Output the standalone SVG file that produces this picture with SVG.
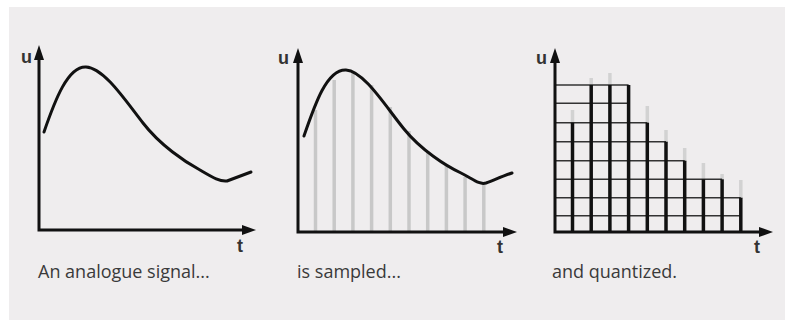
<svg xmlns="http://www.w3.org/2000/svg" width="785" height="320" viewBox="0 0 785 320">
<defs>
<style>
.axis{stroke:#111;stroke-width:3;fill:none}
.head{fill:#111}
.curve{stroke:#111;stroke-width:3;fill:none;stroke-linecap:round;stroke-linejoin:round}
.sample{stroke:#c8c8c8;stroke-width:3.5}
.ghost{stroke:#d2d2d2;stroke-width:3.5}
.grid{stroke:#333;stroke-width:1.6}
.bar{stroke:#111;stroke-width:3.5}
.lbl{font-family:"Liberation Sans",Arial,sans-serif;font-size:18px;font-weight:bold;fill:#333}
.cap{font-family:"Open Sans","Noto Sans",sans-serif;font-size:18px;fill:#3a3a3a}
</style>
</defs>
<rect x="9" y="7" width="776" height="313" fill="#efedee"/>

<g id="panel-analogue">
<path class="axis" d="M39,58 V230 H244"/>
<polygon class="head" points="39,45 34,60 44,60"/>
<polygon class="head" points="256,230 242,225 242,235"/>
<text class="lbl" x="21" y="63">u</text>
<text class="lbl" x="237" y="252">t</text>
<path class="curve" d="M44,132 C55,100 68,66 86,67 C104,68 125,100 143,123 C160,145 185,162 200,170 C212,177 220,182 227,181 C235,178 243,175 251,172"/>
</g>

<g id="panel-sampled">
<g id="samples">
<line class="sample" x1="315.5" y1="231" x2="315.5" y2="110"/>
<line class="sample" x1="334.2" y1="231" x2="334.2" y2="80"/>
<line class="sample" x1="352.9" y1="231" x2="352.9" y2="72"/>
<line class="sample" x1="371.6" y1="231" x2="371.6" y2="85"/>
<line class="sample" x1="390.3" y1="231" x2="390.3" y2="107"/>
<line class="sample" x1="409" y1="231" x2="409" y2="131"/>
<line class="sample" x1="427.7" y1="231" x2="427.7" y2="151"/>
<line class="sample" x1="446.4" y1="231" x2="446.4" y2="165"/>
<line class="sample" x1="465.1" y1="231" x2="465.1" y2="177"/>
<line class="sample" x1="483.8" y1="231" x2="483.8" y2="183"/>
</g>
<path class="axis" d="M298,61 V232 H505"/>
<polygon class="head" points="298,48 293,63 303,63"/>
<polygon class="head" points="517,232 503,227 503,237"/>
<text class="lbl" x="278" y="64">u</text>
<text class="lbl" x="497" y="253">t</text>
<path class="curve" d="M304,136 C315,104 327,69 346,70 C364,71 386,107 404,129 C421,150 446,166 461,173 C473,179 479,185 486,183 C494,180 503,176 512,173"/>
</g>

<g id="panel-quantized">
<g id="ghosts">
<line class="ghost" x1="572.5" y1="124" x2="572.5" y2="110"/>
<line class="ghost" x1="591.2" y1="86" x2="591.2" y2="78"/>
<line class="ghost" x1="609.9" y1="86" x2="609.9" y2="73"/>
<line class="ghost" x1="647.3" y1="124" x2="647.3" y2="106"/>
<line class="ghost" x1="666" y1="143" x2="666" y2="130"/>
<line class="ghost" x1="684.7" y1="162" x2="684.7" y2="148"/>
<line class="ghost" x1="703.4" y1="180" x2="703.4" y2="163"/>
<line class="ghost" x1="722.1" y1="180" x2="722.1" y2="174"/>
<line class="ghost" x1="740.8" y1="199" x2="740.8" y2="180"/>
</g>
<g id="grid">
<line class="grid" x1="555" y1="85" x2="628.6" y2="85"/>
<line class="grid" x1="555" y1="103.3" x2="628.6" y2="103.3"/>
<line class="grid" x1="555" y1="122.7" x2="647.3" y2="122.7"/>
<line class="grid" x1="555" y1="141.7" x2="666" y2="141.7"/>
<line class="grid" x1="555" y1="160.7" x2="684.7" y2="160.7"/>
<line class="grid" x1="555" y1="179.3" x2="722.1" y2="179.3"/>
<line class="grid" x1="555" y1="197.7" x2="740.8" y2="197.7"/>
<line class="grid" x1="555" y1="215.7" x2="740.8" y2="215.7"/>
</g>
<g id="bars">
<line class="bar" x1="572.5" y1="232" x2="572.5" y2="122.7"/>
<line class="bar" x1="591.2" y1="232" x2="591.2" y2="85"/>
<line class="bar" x1="609.9" y1="232" x2="609.9" y2="85"/>
<line class="bar" x1="628.6" y1="232" x2="628.6" y2="85"/>
<line class="bar" x1="647.3" y1="232" x2="647.3" y2="122.7"/>
<line class="bar" x1="666" y1="232" x2="666" y2="141.7"/>
<line class="bar" x1="684.7" y1="232" x2="684.7" y2="160.7"/>
<line class="bar" x1="703.4" y1="232" x2="703.4" y2="179.3"/>
<line class="bar" x1="722.1" y1="232" x2="722.1" y2="179.3"/>
<line class="bar" x1="740.8" y1="232" x2="740.8" y2="197.7"/>
</g>
<path class="axis" d="M555,61 V232 H761"/>
<polygon class="head" points="555,48 550,63 560,63"/>
<polygon class="head" points="773,232 759,227 759,237"/>
<text class="lbl" x="536" y="64">u</text>
<text class="lbl" x="754" y="253">t</text>
</g>

<g id="captions">
<text class="cap" x="38" y="278">An analogue signal...</text>
<text class="cap" x="297" y="278">is sampled...</text>
<text class="cap" x="552" y="278">and quantized.</text>
</g>
</svg>
